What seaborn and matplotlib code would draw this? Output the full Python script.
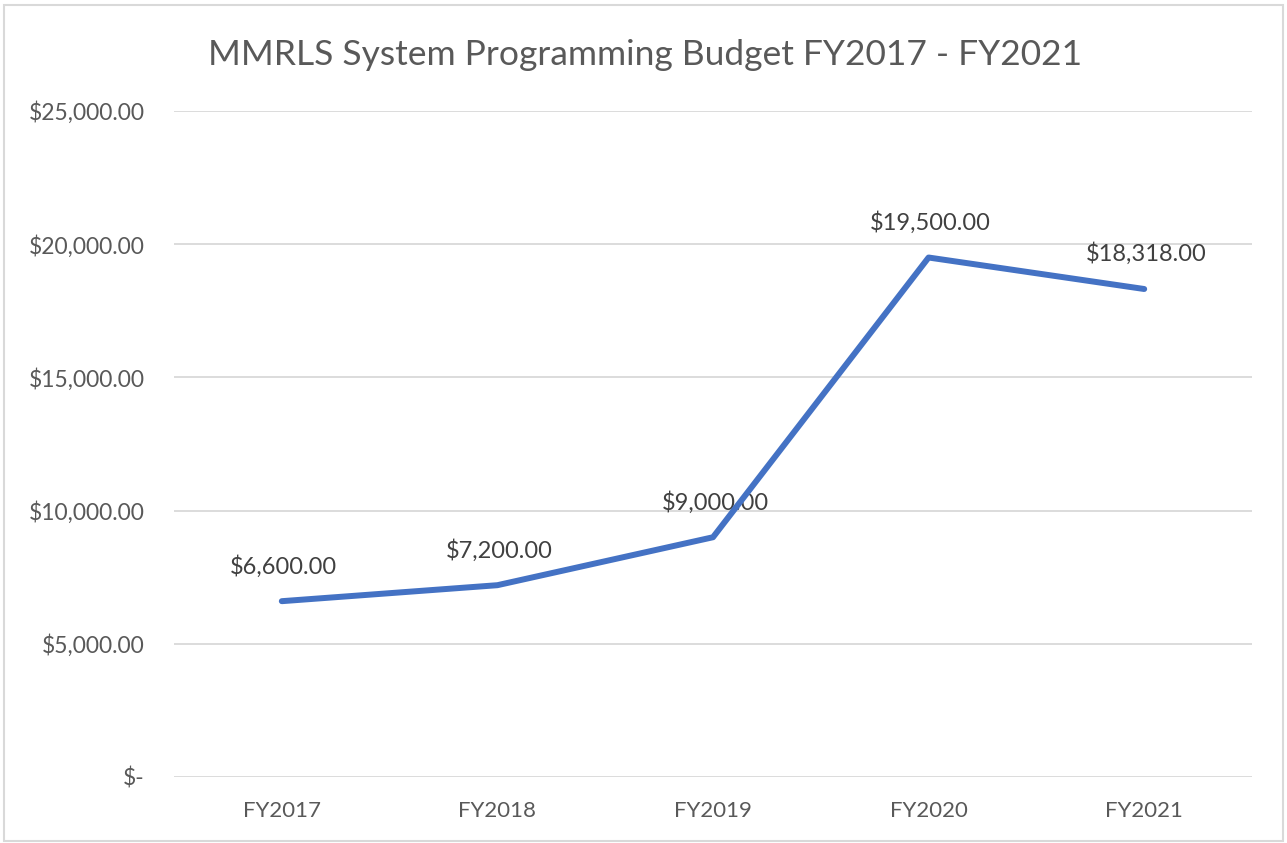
import matplotlib
matplotlib.use("Agg")
import matplotlib.pyplot as plt
import seaborn as sns
import pandas as pd
from matplotlib.ticker import FuncFormatter, MultipleLocator
from matplotlib.patches import Rectangle

years = ["FY2017", "FY2018", "FY2019", "FY2020", "FY2021"]
budget = [6600, 7200, 9000, 19500, 18318]
title = "MMRLS System Programming Budget FY2017 - FY2021"

df = pd.DataFrame({"year": years, "budget": budget})

sns.set_theme(style="white")
plt.rcParams["font.family"] = ["Lato", "DejaVu Sans"]
text_color = "#595959"

fig = plt.figure(figsize=(12.87, 8.43), dpi=100)
ax = fig.add_axes([174/1287, 1-777/843, (1252-174)/1287, (777-111)/843])

sns.lineplot(data=df, x="year", y="budget", ax=ax, color="#4472C4",
             linewidth=4.3, sort=False, zorder=3)

ax.set_xlim(-0.5, len(years)-0.5)
ax.set_ylim(0, 25000)
ax.yaxis.set_major_locator(MultipleLocator(5000))
ax.yaxis.set_major_formatter(FuncFormatter(lambda v, p: "$-" if v == 0 else f"${v:,.2f}"))
ax.grid(axis="y", color="#D9D9D9", linewidth=1.3)
ax.grid(axis="x", visible=False)
for s in ax.spines.values():
    s.set_visible(False)
ax.tick_params(axis="y", length=0, pad=21, labelsize=16.5, labelcolor=text_color)
ax.tick_params(axis="x", length=0, pad=17, labelsize=16, labelcolor=text_color)
ax.set_xlabel("")
ax.set_ylabel("")

for i, v in enumerate(budget):
    ax.annotate(f"${v:,.2f}", (i, v), xytext=(2, 35), textcoords="offset pixels",
                ha="center", va="center", fontsize=17, color="#404040", zorder=2)

fig.text(645/1287, 1-55/843, title, ha="center", va="center", fontsize=25.5, color=text_color)

fig.patches.append(Rectangle((4/1287, 2/843), 1279/1287, 836/843, transform=fig.transFigure,
                             fill=False, edgecolor="#D9D9D9", linewidth=1.5))

fig.savefig("out.png", dpi=100, facecolor="white")
